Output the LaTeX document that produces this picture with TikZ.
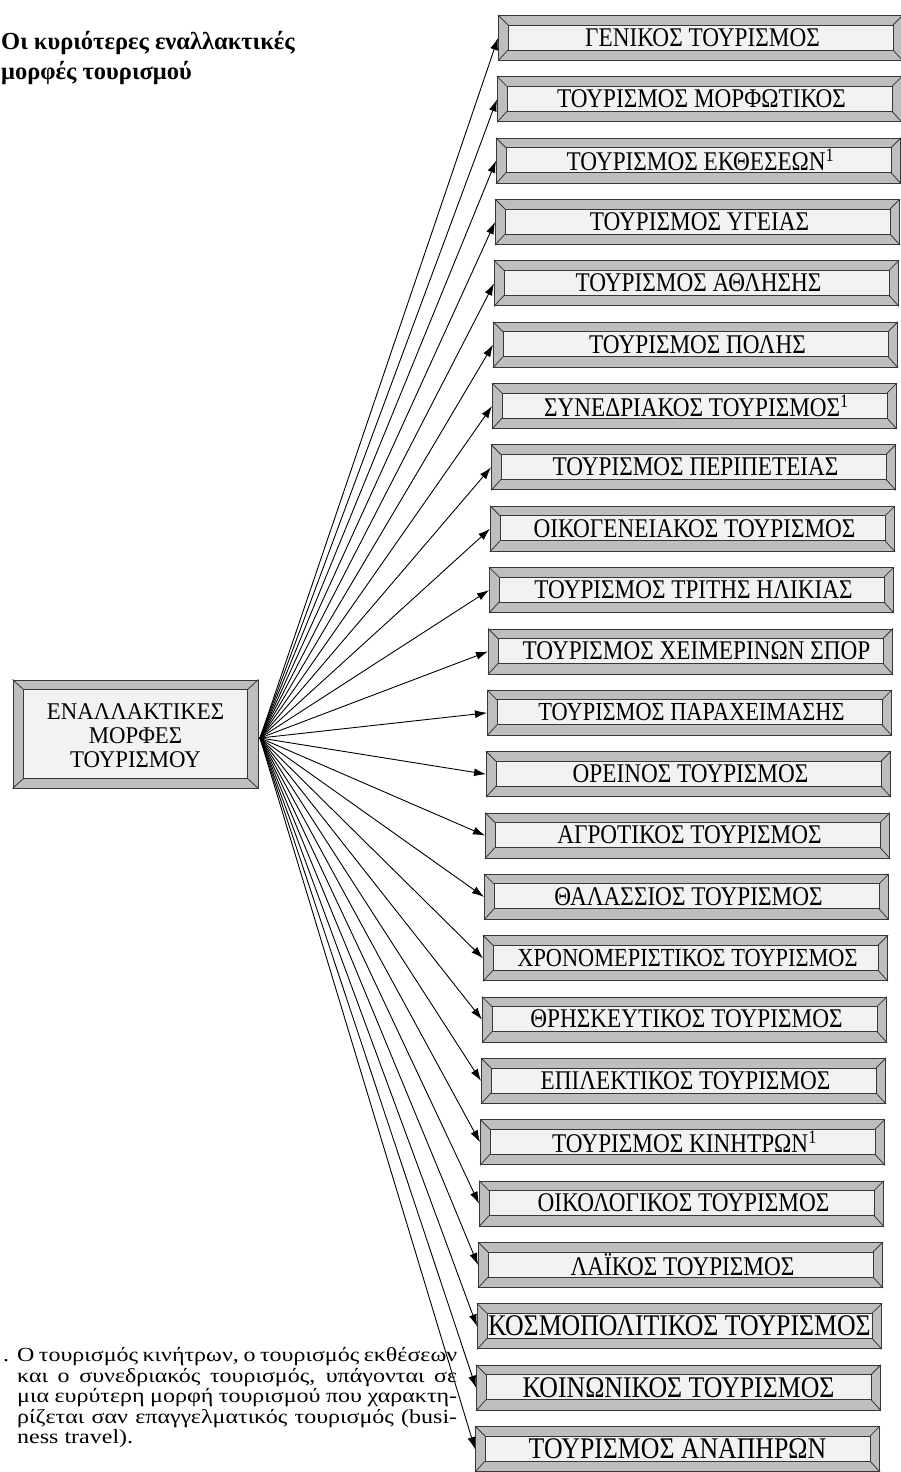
\documentclass[tikz,border=0pt]{standalone}
\usepackage{fontspec}
\setmainfont{Liberation Serif}
\newfontfamily\bxf[FakeStretch=0.86]{Liberation Serif}
\newfontfamily\cxf[FakeStretch=0.95]{Liberation Serif}
\newfontfamily\ntf[FakeStretch=1.2]{Liberation Serif}
\usetikzlibrary{arrows.meta}
\definecolor{bevel}{RGB}{190,190,190}
\definecolor{innerc}{RGB}{242,242,242}
\definecolor{edge}{RGB}{55,55,55}
\tikzset{
  outerbox/.style={draw=edge, line width=1pt, fill=bevel, minimum width=404pt, minimum height=45pt, inner sep=0pt, anchor=west},
  innerbox/.style={draw=edge, line width=0.9pt, fill=innerc},
  cornerline/.style={draw=edge, line width=0.8pt},
  boxtext/.style={inner sep=0pt},
  ctext/.style={inner sep=0pt, anchor=base, font=\cxf\fontsize{24}{24}\selectfont},
  arr/.style={draw=black, line width=0.9pt, -{Latex[length=12pt,width=8pt]}},
  notetext/.style={inner sep=0pt, anchor=base west, font=\ntf\fontsize{20}{20}\selectfont}
}
\begin{document}
\begin{tikzpicture}[x=1pt,y=-1pt]
\useasboundingbox (0,0) rectangle (901,1472);
\fill[white] (0,0) rectangle (901,1472);

% title
\node[inner sep=0pt, anchor=base west, font=\bfseries\fontsize{24.5}{29}\selectfont] (title1) at (1,49) {Οι κυριότερες εναλλακτικές};
\node[inner sep=0pt, anchor=base west, font=\bfseries\fontsize{24.5}{29}\selectfont] (title2) at (1,79) {μορφές τουρισμού};

% central box
\node[outerbox, anchor=center, minimum width=245pt, minimum height=108pt] (c) at (135.5,734) {};
\draw[innerbox] ([shift={(11,10)}]c.north west) rectangle ([shift={(-11,-10)}]c.south east);
\draw[cornerline] (c.north west) -- ([shift={(11,10)}]c.north west);
\draw[cornerline] (c.north east) -- ([shift={(-11,10)}]c.north east);
\draw[cornerline] (c.south west) -- ([shift={(11,-10)}]c.south west);
\draw[cornerline] (c.south east) -- ([shift={(-11,-10)}]c.south east);
\node[ctext] (ct1) at (135.5,719) {ΕΝΑΛΛΑΚΤΙΚΕΣ};
\node[ctext] (ct2) at (135.5,743) {ΜΟΡΦΕΣ};
\node[ctext] (ct3) at (135.5,767) {ΤΟΥΡΙΣΜΟΥ};
\coordinate (src) at (260,738);

% right boxes
\foreach \i/\t/\s/\dx in {
 1/{ΓΕΝΙΚΟΣ ΤΟΥΡΙΣΜΟΣ}/27/2,
 2/{ΤΟΥΡΙΣΜΟΣ ΜΟΡΦΩΤΙΚΟΣ}/27/2,
 3/{ΤΟΥΡΙΣΜΟΣ ΕΚΘΕΣΕΩΝ\textsuperscript{1}}/27/2,
 4/{ΤΟΥΡΙΣΜΟΣ ΥΓΕΙΑΣ}/27/2,
 5/{ΤΟΥΡΙΣΜΟΣ ΑΘΛΗΣΗΣ}/27/2,
 6/{ΤΟΥΡΙΣΜΟΣ ΠΟΛΗΣ}/27/2,
 7/{ΣΥΝΕΔΡΙΑΚΟΣ ΤΟΥΡΙΣΜΟΣ\textsuperscript{1}}/27/2,
 8/{ΤΟΥΡΙΣΜΟΣ ΠΕΡΙΠΕΤΕΙΑΣ}/27/2,
 9/{ΟΙΚΟΓΕΝΕΙΑΚΟΣ ΤΟΥΡΙΣΜΟΣ}/27/2,
 10/{ΤΟΥΡΙΣΜΟΣ ΤΡΙΤΗΣ ΗΛΙΚΙΑΣ}/27/2,
 11/{ΤΟΥΡΙΣΜΟΣ ΧΕΙΜΕΡΙΝΩΝ ΣΠΟΡ}/27/6,
 12/{ΤΟΥΡΙΣΜΟΣ ΠΑΡΑΧΕΙΜΑΣΗΣ}/26/2,
 13/{ΟΡΕΙΝΟΣ ΤΟΥΡΙΣΜΟΣ}/27/2,
 14/{ΑΓΡΟΤΙΚΟΣ ΤΟΥΡΙΣΜΟΣ}/27/2,
 15/{ΘΑΛΑΣΣΙΟΣ ΤΟΥΡΙΣΜΟΣ}/27/2,
 16/{ΧΡΟΝΟΜΕΡΙΣΤΙΚΟΣ ΤΟΥΡΙΣΜΟΣ}/26/2,
 17/{ΘΡΗΣΚΕΥΤΙΚΟΣ ΤΟΥΡΙΣΜΟΣ}/27/2,
 18/{ΕΠΙΛΕΚΤΙΚΟΣ ΤΟΥΡΙΣΜΟΣ}/27/2,
 19/{ΤΟΥΡΙΣΜΟΣ ΚΙΝΗΤΡΩΝ\textsuperscript{1}}/27/2,
 20/{ΟΙΚΟΛΟΓΙΚΟΣ ΤΟΥΡΙΣΜΟΣ}/27/2,
 21/{ΛΑΪΚΟΣ ΤΟΥΡΙΣΜΟΣ}/27/2,
 22/{ΚΟΣΜΟΠΟΛΙΤΙΚΟΣ ΤΟΥΡΙΣΜΟΣ}/30/0,
 23/{ΚΟΙΝΩΝΙΚΟΣ ΤΟΥΡΙΣΜΟΣ}/30/0,
 24/{ΤΟΥΡΙΣΜΟΣ ΑΝΑΠΗΡΩΝ}/30/0}{
  \pgfmathsetmacro\lx{498-(\i-1)}
  \pgfmathsetmacro\cy{38+61.35*(\i-1)}
  \node[outerbox] (b\i) at (\lx,\cy) {};
  \draw[innerbox] ([shift={(10,10)}]b\i.north west) rectangle ([shift={(-10,-11)}]b\i.south east);
  \draw[cornerline] (b\i.north west) -- ([shift={(10,10)}]b\i.north west);
  \draw[cornerline] (b\i.north east) -- ([shift={(-10,10)}]b\i.north east);
  \draw[cornerline] (b\i.south west) -- ([shift={(10,-11)}]b\i.south west);
  \draw[cornerline] (b\i.south east) -- ([shift={(-10,-11)}]b\i.south east);
  \node[boxtext, font=\bxf\fontsize{\s}{\s}\selectfont] (t\i) at ([shift={(\dx,-0.5)}]b\i.center) {\t};
  \draw[arr] (src) -- (b\i.west);
}

% footnote
\node[notetext] (fdot) at (3,1361) {.};
\node[notetext] (f1) at (17,1361) {\makebox[440pt][s]{Ο τουρισμός κινήτρων, ο τουρισμός εκθέσεων}};
\node[notetext] (f2) at (17,1382) {\makebox[440pt][s]{και ο συνεδριακός τουρισμός, υπάγονται σε}};
\node[notetext] (f3) at (17,1402) {\makebox[440pt][s]{μια ευρύτερη μορφή τουρισμού που χαρακτη-}};
\node[notetext] (f4) at (17,1423) {\makebox[440pt][s]{ρίζεται σαν επαγγελματικός τουρισμός (busi-}};
\node[notetext] (f5) at (17,1443) {ness travel).};
\end{tikzpicture}
\end{document}
